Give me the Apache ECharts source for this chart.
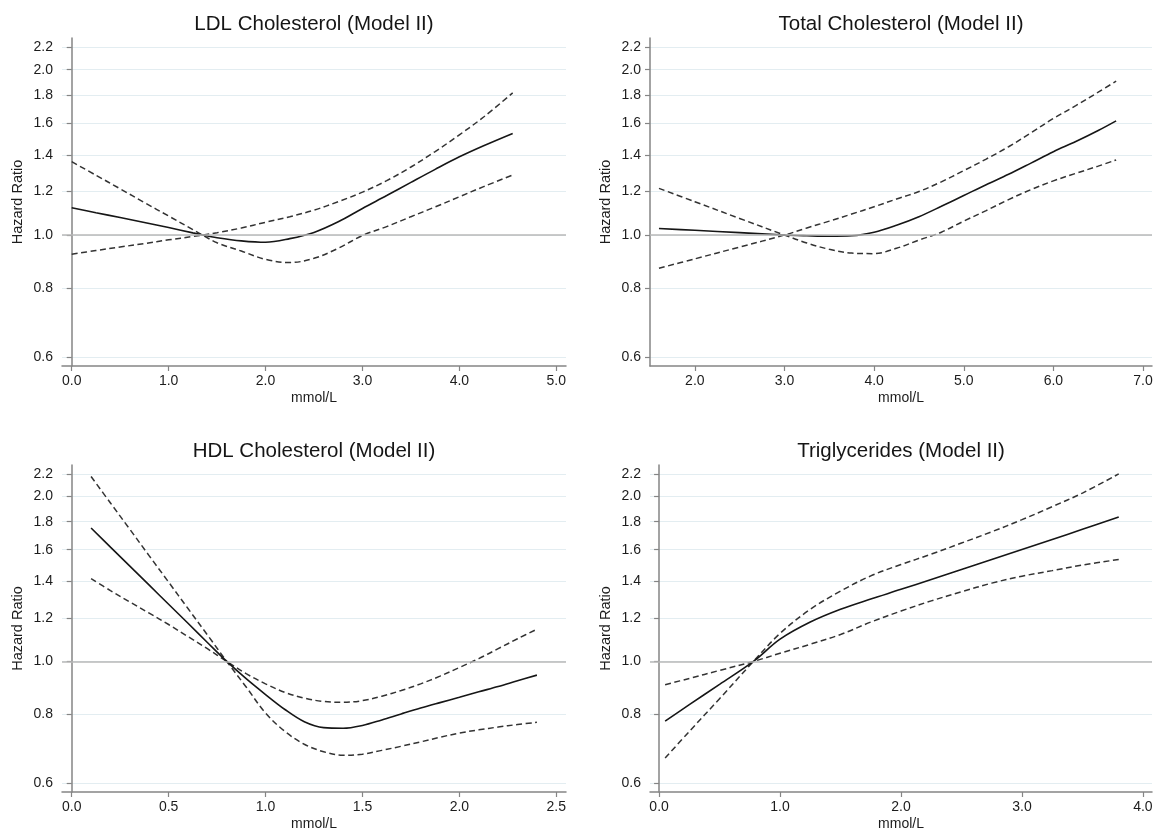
<!DOCTYPE html>
<html>
<head>
<meta charset="utf-8">
<script src="https://cdn.jsdelivr.net/npm/echarts@6/dist/echarts.min.js"></script>
<style>
  html, body { margin: 0; padding: 0; background: #ffffff; }
  #chart { width: 1160px; height: 832px; }
</style>
</head>
<body>
<div id="chart"></div>
<script>
// Hazard-ratio ticks shown on every (log-scaled) y axis
const hrTicks = [0.6, 0.8, 1.0, 1.2, 1.4, 1.6, 1.8, 2.0, 2.2];

// LDL cholesterol: spline estimate and the two 95% CI limits
// (the limits cross at the reference value, so each array is one continuous dashed curve)
const ldlX    = [0, 0.25, 0.5, 0.75, 1.0, 1.25, 1.35, 1.5, 1.75, 2.0, 2.25, 2.5, 2.75, 3.0, 3.25, 3.5, 3.75, 4.0, 4.25, 4.55];
const ldlHR   = [1.121, 1.098, 1.076, 1.054, 1.032, 1.009, 1.0, 0.989, 0.976, 0.970, 0.985, 1.011, 1.057, 1.118, 1.18, 1.247, 1.317, 1.388, 1.454, 1.531];
const ldlCi1  = [1.36, 1.285, 1.214, 1.146, 1.083, 1.023, 1.0, 0.968, 0.935, 0.903, 0.891, 0.907, 0.946, 0.998, 1.036, 1.08, 1.125, 1.174, 1.225, 1.286];
const ldlCi2  = [0.923, 0.937, 0.951, 0.965, 0.980, 0.994, 1.0, 1.01, 1.03, 1.055, 1.08, 1.11, 1.15, 1.197, 1.256, 1.33, 1.419, 1.522, 1.64, 1.815];
const ldlTicks = [0, 1, 2, 3, 4, 5];

// Total cholesterol
const tcX    = [1.6, 2.0, 2.5, 3.0, 3.25, 3.5, 3.75, 4.0, 4.25, 4.5, 4.75, 5.0, 5.25, 5.5, 5.75, 6.0, 6.25, 6.5, 6.7];
const tcHR   = [1.028, 1.02, 1.01, 1.0, 0.997, 0.995, 0.997, 1.012, 1.042, 1.08, 1.128, 1.18, 1.235, 1.29, 1.352, 1.418, 1.48, 1.55, 1.614];
const tcCi1  = [1.216, 1.15, 1.072, 1.0, 0.967, 0.942, 0.927, 0.925, 0.946, 0.979, 1.012, 1.06, 1.108, 1.16, 1.21, 1.255, 1.295, 1.335, 1.37];
const tcCi2  = [0.870, 0.905, 0.951, 1.0, 1.03, 1.06, 1.092, 1.126, 1.163, 1.2, 1.25, 1.31, 1.375, 1.448, 1.535, 1.63, 1.72, 1.82, 1.906];
const tcTicks = [2, 3, 4, 5, 6, 7];

// HDL cholesterol
const hdlX   = [0.1, 0.2, 0.3, 0.4, 0.5, 0.6, 0.7, 0.8, 0.9, 1.0, 1.1, 1.2, 1.3, 1.4, 1.5, 1.6, 1.7, 1.8, 1.9, 2.0, 2.1, 2.2, 2.3, 2.4];
const hdlHR  = [1.753, 1.617, 1.493, 1.378, 1.272, 1.174, 1.083, 1.0, 0.93, 0.87, 0.817, 0.776, 0.757, 0.755, 0.764, 0.782, 0.802, 0.822, 0.841, 0.86, 0.88, 0.90, 0.922, 0.944];
const hdlCi1 = [2.176, 1.947, 1.743, 1.559, 1.396, 1.249, 1.118, 1.0, 0.898, 0.805, 0.745, 0.706, 0.684, 0.674, 0.677, 0.688, 0.70, 0.713, 0.727, 0.74, 0.75, 0.759, 0.767, 0.774];
const hdlCi2 = [1.416, 1.347, 1.284, 1.225, 1.168, 1.11, 1.055, 1.0, 0.95, 0.91, 0.878, 0.857, 0.845, 0.842, 0.848, 0.864, 0.885, 0.91, 0.94, 0.975, 1.012, 1.055, 1.10, 1.145];
const hdlTicks = [0, 0.5, 1.0, 1.5, 2.0, 2.5];

// Triglycerides
const tgX    = [0.05, 0.25, 0.5, 0.78, 1.0, 1.25, 1.5, 1.75, 2.0, 2.25, 2.5, 2.75, 3.0, 3.25, 3.5, 3.8];
const tgHR   = [0.778, 0.834, 0.908, 1.0, 1.098, 1.18, 1.245, 1.30, 1.354, 1.412, 1.472, 1.535, 1.601, 1.67, 1.743, 1.836];
const tgCi1  = [0.666, 0.745, 0.855, 1.0, 1.125, 1.245, 1.344, 1.433, 1.503, 1.57, 1.645, 1.725, 1.815, 1.917, 2.03, 2.20];
const tgCi2  = [0.907, 0.931, 0.963, 1.0, 1.035, 1.075, 1.12, 1.18, 1.236, 1.29, 1.34, 1.39, 1.431, 1.465, 1.50, 1.535];
const tgTicks = [0, 1, 2, 3, 4];

const FONT = '"Liberation Sans", Arial, Helvetica, sans-serif';
const TEXT = '#1c1c1c';
const AXIS = '#858585';

// y is plotted on the natural-log scale of the hazard ratio
const lnMin = -0.549, lnMax = 0.826;

const panels = [
  { title: 'LDL Cholesterol (Model II)',   x: ldlX, hr: ldlHR, ci1: ldlCi1, ci2: ldlCi2, ticks: ldlTicks, xMin: -0.1,   xMax: 5.1,   left: 62,  top: 38 },
  { title: 'Total Cholesterol (Model II)', x: tcX,  hr: tcHR,  ci1: tcCi1,  ci2: tcCi2,  ticks: tcTicks,  xMin: 1.5,    xMax: 7.1,   left: 650, top: 38 },
  { title: 'HDL Cholesterol (Model II)',   x: hdlX, hr: hdlHR, ci1: hdlCi1, ci2: hdlCi2, ticks: hdlTicks, xMin: -0.05,  xMax: 2.55,  left: 62,  top: 465 },
  { title: 'Triglycerides (Model II)',     x: tgX,  hr: tgHR,  ci1: tgCi1,  ci2: tgCi2,  ticks: tgTicks,  xMin: -0.075, xMax: 4.075, left: 650, top: 465 }
];
const gridW = [504, 502, 504, 502];
const gridH = 328;

const toPoints = (xs, ys) => xs.map((x, i) => [x, Math.log(ys[i])]);
const lnTicks = hrTicks.map(v => Math.log(v));

const grids = [], xAxes = [], yAxes = [], series = [], graphics = [];

panels.forEach((p, i) => {
  grids.push({ left: p.left, top: p.top, width: gridW[i], height: gridH, containLabel: false });

  xAxes.push({
    gridIndex: i, type: 'value', min: p.xMin, max: p.xMax,
    name: 'mmol/L', nameLocation: 'middle', nameGap: 25,
    nameTextStyle: { fontSize: 14, color: TEXT, fontFamily: FONT },
    axisLine: { show: true, onZero: false, lineStyle: { color: AXIS, width: 1.5 } },
    axisTick: { show: true, length: 5, customValues: p.ticks, lineStyle: { color: AXIS, width: 1.2 } },
    axisLabel: { customValues: p.ticks, margin: 8, fontSize: 14, color: TEXT, fontFamily: FONT,
                 formatter: v => Number(v).toFixed(1) },
    splitLine: { show: false }
  });

  yAxes.push({
    gridIndex: i, type: 'value', min: lnMin, max: lnMax,
    name: 'Hazard Ratio', nameLocation: 'middle', nameGap: 37,
    nameTextStyle: { fontSize: 14.5, color: TEXT, fontFamily: FONT },
    axisLine: { show: true, lineStyle: { color: AXIS, width: 1.5 } },
    axisTick: { show: true, length: 5, customValues: lnTicks, lineStyle: { color: AXIS, width: 1.2 } },
    axisLabel: { customValues: lnTicks, margin: 9, fontSize: 14, color: TEXT, fontFamily: FONT,
                 formatter: v => Math.exp(v).toFixed(1) },
    splitLine: { show: true, lineStyle: { color: '#e3edf1', width: 1.2 } }
  });

  // reference line at HR = 1
  series.push({
    type: 'line', xAxisIndex: i, yAxisIndex: i, data: [], silent: true,
    markLine: { silent: true, symbol: 'none', label: { show: false },
                lineStyle: { color: '#b9b9b9', width: 1.6, type: 'solid' },
                data: [{ yAxis: 0 }] }
  });

  const dashed = { color: '#333333', width: 1.5, type: [6, 3.5] };
  series.push({ type: 'line', xAxisIndex: i, yAxisIndex: i, data: toPoints(p.x, p.ci1),
                showSymbol: false, smooth: 0.35, lineStyle: dashed, silent: true });
  series.push({ type: 'line', xAxisIndex: i, yAxisIndex: i, data: toPoints(p.x, p.ci2),
                showSymbol: false, smooth: 0.35, lineStyle: dashed, silent: true });
  series.push({ type: 'line', xAxisIndex: i, yAxisIndex: i, data: toPoints(p.x, p.hr),
                showSymbol: false, smooth: 0.35, lineStyle: { color: '#161616', width: 1.6 }, silent: true });

  graphics.push({
    type: 'text', x: p.left + gridW[i] / 2, y: p.top - 14,
    style: { text: p.title, fontSize: 20.5, fill: '#151515', fontFamily: FONT,
             textAlign: 'center', textVerticalAlign: 'middle' }
  });
});

const chart = echarts.init(document.getElementById('chart'));
chart.setOption({
  animation: false,
  backgroundColor: '#ffffff',
  grid: grids,
  xAxis: xAxes,
  yAxis: yAxes,
  series: series,
  graphic: graphics
});
</script>
</body>
</html>
